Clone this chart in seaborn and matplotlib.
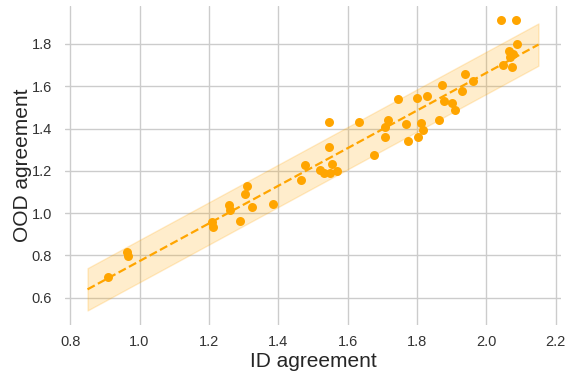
import numpy as np
import pandas as pd
import matplotlib
matplotlib.use("Agg")
import matplotlib.pyplot as plt
import seaborn as sns

id_agreement = [0.910, 0.965, 0.967, 1.210, 1.212, 1.258, 1.260, 1.290, 1.305, 1.311,
                1.323, 1.384, 1.464, 1.476, 1.519, 1.533, 1.548, 1.556, 1.569, 1.545,
                1.545, 1.632, 1.675, 1.707, 1.708, 1.716, 1.744, 1.767, 1.773, 1.799,
                1.803, 1.810, 1.816, 1.830, 1.863, 1.873, 1.878, 1.900, 1.908, 1.930,
                1.938, 1.962, 2.043, 2.084, 2.087, 2.064, 2.076, 2.068, 2.049, 2.074]
ood_agreement = [0.700, 0.815, 0.797, 0.960, 0.934, 1.041, 1.015, 0.962, 1.093, 1.128,
                 1.030, 1.045, 1.158, 1.228, 1.205, 1.191, 1.191, 1.232, 1.198, 1.312,
                 1.430, 1.430, 1.273, 1.361, 1.408, 1.439, 1.538, 1.422, 1.340, 1.544,
                 1.361, 1.427, 1.395, 1.555, 1.442, 1.607, 1.528, 1.522, 1.486, 1.577,
                 1.657, 1.626, 1.911, 1.911, 1.799, 1.769, 1.751, 1.738, 1.701, 1.689]

# fitted line and band
fit_slope = 0.89
fit_intercept = -0.1165
band_halfwidth = 0.10
fit_x_range = [0.85, 2.15]

sns.set_theme(style="whitegrid")
plt.rcParams['font.family'] = ['Liberation Sans', 'DejaVu Sans']

df = pd.DataFrame({"ID agreement": id_agreement, "OOD agreement": ood_agreement})

fig = plt.figure(figsize=(5.71, 3.73), dpi=100)
ax = fig.add_axes([0.1138, 0.1287, 0.9825 - 0.1138, 0.984 - 0.1287])

xs = np.linspace(fit_x_range[0], fit_x_range[1], 100)
ys = fit_slope * xs + fit_intercept
ax.fill_between(xs, ys - band_halfwidth, ys + band_halfwidth, color="orange", alpha=0.2)
ax.plot(xs, ys, color="orange", linestyle="--", linewidth=1.6)

sns.scatterplot(data=df, x="ID agreement", y="OOD agreement", color="orange",
                s=42, linewidth=0, ax=ax, zorder=3)

for s in ax.spines.values():
    s.set_visible(False)

ax.set_xticks([0.8, 1.0, 1.2, 1.4, 1.6, 1.8, 2.0, 2.2])
ax.set_yticks([0.6, 0.8, 1.0, 1.2, 1.4, 1.6, 1.8])
ax.tick_params(labelsize=10.5, colors="#333333")
ax.tick_params(axis="x", pad=1)
ax.set_xlabel("ID agreement", fontsize=15, color="#262626")
ax.set_ylabel("OOD agreement", fontsize=15, color="#262626")
ax.xaxis.set_label_coords(0.5, -0.085)
ax.yaxis.set_label_coords(-0.066, 0.5)

fig.savefig("out.png", dpi=100)
